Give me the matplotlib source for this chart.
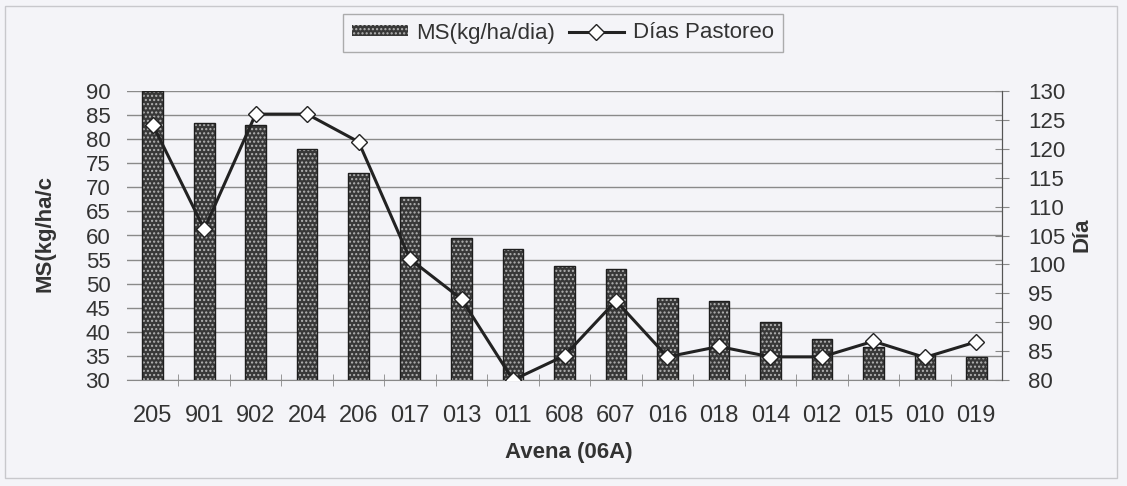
import matplotlib
matplotlib.use("Agg")
import matplotlib.pyplot as plt
import numpy as np
from matplotlib.patches import Patch, Rectangle
from matplotlib.lines import Line2D

plt.rcParams['font.family'] = ['Liberation Sans', 'DejaVu Sans']
plt.rcParams['hatch.linewidth'] = 1.0

# data
variedades = ["205", "901", "902", "204", "206", "017", "013", "011", "608",
              "607", "016", "018", "014", "012", "015", "010", "019"]
ms_kg_ha_dia = [90.0, 83.3, 82.9, 78.0, 73.0, 67.9, 59.4, 57.3, 53.7,
                53.0, 47.0, 46.5, 42.0, 38.5, 36.8, 35.2, 34.8]
dias_pastoreo = [124.2, 106.1, 126.0, 126.0, 121.2, 100.9, 94.0, 80.0, 84.2,
                 93.7, 84.0, 85.8, 84.0, 84.0, 86.7, 83.9, 86.6]

bg = '#f4f4f8'
txt = '#333333'
bar_face = '#383838'
hatch_col = '#b4b4b4'

fig = plt.figure(figsize=(11.27, 4.86), dpi=100, facecolor=bg)
ax = fig.add_axes([127 / 1127, 1 - 380 / 486, (1002 - 127) / 1127, (380 - 91) / 486])
ax.set_facecolor(bg)

x = np.arange(len(variedades))
ax.bar(x, ms_kg_ha_dia, width=0.4, bottom=0, color=bar_face, edgecolor=hatch_col,
       hatch='....', linewidth=0, zorder=2)
ax.bar(x, ms_kg_ha_dia, width=0.4, fill=False, edgecolor='#1e1e1e', linewidth=1, zorder=3)

ax.set_ylim(30, 90)
ax.set_xlim(-0.5, len(variedades) - 0.5)
ax.set_yticks(np.arange(30, 91, 5))
ax.yaxis.grid(True, color='#8a8a8a', linewidth=1)
ax.set_axisbelow(True)
ax.set_xticks(x)
ax.set_xticklabels(variedades, fontsize=17, color=txt)
ax.set_xticks(np.arange(0.5, len(variedades) - 1, 1), minor=True)
ax.tick_params(axis='x', which='major', length=0, pad=18)
ax.tick_params(axis='x', which='minor', direction='inout', length=8, color='#888888')
ax.tick_params(axis='y', length=0, pad=12, labelsize=16, labelcolor=txt)
for s in ['left', 'top']:
    ax.spines[s].set_visible(False)
ax.spines['bottom'].set_color('#888888')
ax.spines['right'].set_color('#555555')

ax2 = ax.twinx()
ax2.plot(x, dias_pastoreo, color='#222222', linewidth=2.2, marker='D', markersize=8,
         markerfacecolor='white', markeredgecolor='#222222', markeredgewidth=1, zorder=5)
ax2.set_ylim(80, 130)
ax2.set_yticks(np.arange(80, 131, 5))
ax2.tick_params(axis='y', direction='inout', length=10, color='#888888', pad=14,
                labelsize=16, labelcolor=txt)
for s in ['left', 'top', 'bottom']:
    ax2.spines[s].set_visible(False)
ax2.spines['right'].set_color('#555555')

fig.text(45 / 1127, 1 - 233 / 486, 'MS(kg/ha/c', rotation=90, ha='center', va='center',
         fontsize=16, fontweight='bold', color=txt)
fig.text(1082 / 1127, 1 - 235 / 486, 'Día', rotation=90, ha='center', va='center',
         fontsize=16, fontweight='bold', color=txt)
fig.text(569 / 1127, 1 - 452 / 486, 'Avena (06A)', ha='center', va='center',
         fontsize=16, fontweight='bold', color=txt)

handles = [Patch(facecolor=bar_face, edgecolor=hatch_col, hatch='....', linewidth=0),
           Line2D([], [], color='#222222', linewidth=2.2, marker='D', markersize=8,
                  markerfacecolor='white', markeredgecolor='#222222')]
leg = fig.legend(handles, ['MS(kg/ha/dia)', 'Días Pastoreo'], loc='center',
                 bbox_to_anchor=(563 / 1127, 1 - 33 / 486), ncol=2, fontsize=16,
                 frameon=True, fancybox=False, handlelength=2.5, handleheight=0.4,
                 columnspacing=0.6, handletextpad=0.4, borderpad=0.4)
leg.get_frame().set_edgecolor('#999999')
leg.get_frame().set_facecolor(bg)
leg.get_frame().set_linewidth(1)
for t in leg.get_texts():
    t.set_color(txt)

fig.patches.append(Rectangle((5 / 1127, 1 - 478 / 486), 1112 / 1127, 472 / 486,
                             transform=fig.transFigure, fill=False,
                             edgecolor='#c8c8cc', linewidth=1))

fig.savefig('out.png', dpi=100, facecolor=bg)
